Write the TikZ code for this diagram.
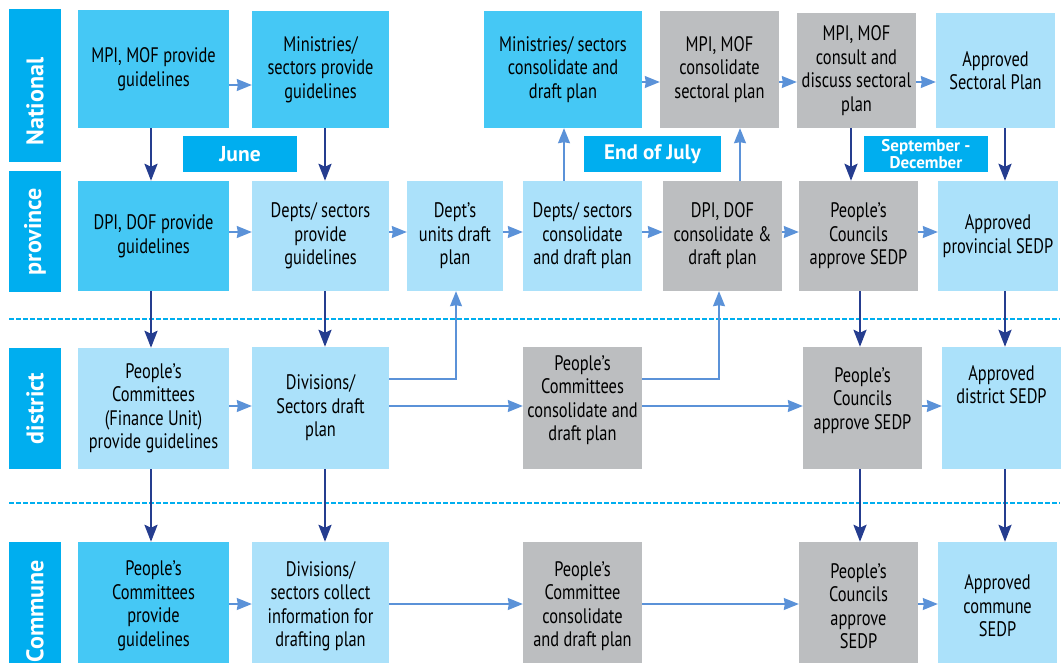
\documentclass[tikz,border=0pt]{standalone}
\usepackage{fontspec}
\setmainfont{PT Sans}[FakeStretch=0.78]
\newfontfamily\boldsans{PT Sans}[BoldFont={PT Sans Bold}]
\usetikzlibrary{arrows.meta}
\definecolor{cyanlab}{HTML}{00AEEF}
\definecolor{midblue}{HTML}{45C8F5}
\definecolor{liteblue}{HTML}{ABE1FA}
\definecolor{greybox}{HTML}{BCBEC0}
\definecolor{darkarrow}{HTML}{253D8F}
\definecolor{litearrow}{HTML}{5B92D8}
\definecolor{dashcol}{HTML}{00AEEF}
\newcommand\boxfont{\fontsize{21}{23.5}\selectfont}
\newcommand\lanefnt{\boldsans\bfseries\fontsize{24}{26}\selectfont}
\newcommand\tagfnt{\boldsans\bfseries\fontsize{21.5}{21.5}\selectfont}
\tikzset{
  box/.style={inner sep=0pt, align=center, font=\boxfont, text=black},
  mid/.style={box, fill=midblue},
  lite/.style={box, fill=liteblue},
  grey/.style={box, fill=greybox},
  lanebox/.style={fill=cyanlab, text=white, font=\lanefnt, rotate=90, inner sep=0pt},
  tagbox/.style={fill=cyanlab, text=white, font=\tagfnt, align=center, inner sep=0pt},
  dk/.style={draw=darkarrow, line width=2.6pt, -{Stealth[length=17pt,width=13pt,inset=3pt]}},
  lt/.style={draw=litearrow, line width=1.3pt, -{Stealth[length=15pt,width=12pt,inset=1pt]}},
  sep/.style={draw=dashcol, line width=1.2pt, dash pattern=on 4.5pt off 2.5pt}
}
% \bx{name}{style}{x1}{y1}{x2}{y2}{text}
\newcommand\bx[7]{\node[#2, minimum width={#5-#3}, minimum height={#6-#4}] (#1) at ({(#3+#5)/2},{(#4+#6)/2}) {#7};}
% \lane{name}{x1}{y1}{x2}{y2}{text}
\newcommand\lane[6]{\node[lanebox, minimum width={#5-#3}, minimum height={#4-#2}] (#1) at ({(#2+#4)/2},{(#3+#5)/2}) {#6};}
\begin{document}
\begin{tikzpicture}[x=1pt,y=-1pt]
\useasboundingbox (0,0) rectangle (1064,662);
% separators
\coordinate (s1a) at (9,319); \coordinate (s1b) at (1060,319);
\coordinate (s2a) at (9,503); \coordinate (s2b) at (1060,503);
\draw[sep] (s1a) -- (s1b);
\draw[sep] (s2a) -- (s2b);
% lanes
\lane{L1}{9}{9}{61}{162}{National\hspace*{32pt}}
\lane{L2}{9}{171}{61}{292}{province}
\lane{L3}{9}{348}{61}{469}{district}
\lane{L4}{9}{542}{61}{680}{Commune}
% tags
\bx{T1}{tagbox}{183}{136}{297}{172}{June}
\bx{T2}{tagbox,font=\boldsans\bfseries\fontsize{21}{21}\selectfont}{584}{136}{721}{172}{End of July}
\bx{T3}{tagbox,font=\boldsans\bfseries\fontsize{17}{17.5}\selectfont}{864}{136}{988}{172}{September -\\December}
% national
\bx{A1}{mid}{78}{10}{229}{128}{MPI, MOF provide\\guidelines}
\bx{A2}{mid}{252}{11}{389}{128}{Ministries/\\sectors provide\\guidelines}
\bx{A4}{mid}{484}{11}{642}{128}{Ministries/ sectors\\consolidate and\\draft plan}
\bx{A5}{grey}{660}{11}{779}{128}{MPI, MOF\\consolidate\\sectoral plan}
\bx{A6}{grey}{797}{13}{916}{128}{MPI, MOF\\consult and\\discuss sectoral\\plan}
\bx{A7}{lite}{936}{13}{1055}{128}{Approved\\Sectoral Plan}
% province
\bx{B1}{mid}{78}{181}{229}{291}{DPI, DOF provide\\guidelines}
\bx{B2}{lite}{252}{181}{389}{291}{Depts/ sectors\\provide\\guidelines}
\bx{B3}{lite}{407}{181}{503}{291}{Dept’s\\units draft\\plan}
\bx{B4}{lite}{523}{181}{642}{291}{Depts/ sectors\\consolidate\\and draft plan}
\bx{B5}{grey}{663}{181}{782}{291}{DPI, DOF\\consolidate \&\\draft plan}
\bx{B6}{grey}{799}{181}{918}{291}{People’s\\Councils\\approve SEDP}
\bx{B7}{lite}{938}{181}{1058}{291}{Approved\\provincial SEDP}
% district
\bx{C1}{lite}{78}{348}{229}{469}{People’s\\Committees\\(Finance Unit)\\provide guidelines}
\bx{C2}{lite}{252}{347}{389}{469}{Divisions/\\Sectors draft\\plan}
\bx{C4}{grey}{523}{347}{642}{469}{People’s\\Committees\\consolidate and\\draft plan\\[-4pt]~}
\bx{C6}{grey}{803}{347}{922}{469}{People’s\\Councils\\approve SEDP\\[-4pt]~}
\bx{C7}{lite}{942}{347}{1061}{469}{Approved\\district SEDP\\~\\~}
% commune
\bx{D1}{mid}{78}{542}{229}{670}{People’s\\Committees\\provide\\guidelines}
\bx{D2}{lite}{252}{542}{389}{670}{Divisions/\\sectors collect\\information for\\drafting plan}
\bx{D4}{grey}{523}{542}{642}{670}{People’s\\Committee\\consolidate\\and draft plan}
\bx{D6}{grey}{799}{542}{918}{670}{People’s\\Councils\\approve\\SEDP}
\bx{D7}{lite}{938}{542}{1057}{670}{Approved\\commune\\SEDP}
% helper coordinates
\coordinate (xa) at (151,0);
\coordinate (xb) at (325,0);
\coordinate (xc) at (851,0);
\coordinate (xd) at (860,0);
\coordinate (xe) at (1005,0);
\coordinate (xf) at (564,0);
\coordinate (xg) at (740,0);
\coordinate (xh) at (456,0);
\coordinate (xi) at (719,0);
\coordinate (ya) at (0,85);
\coordinate (yb) at (0,82);
\coordinate (yc) at (0,232);
\coordinate (yd) at (0,406);
\coordinate (ye) at (0,379);
\coordinate (yf) at (0,604);
% dark vertical arrows
\draw[dk] (A1.south -| xa) -- (B1.north -| xa);
\draw[dk] (A2.south -| xb) -- (B2.north -| xb);
\draw[dk] (A6.south -| xc) -- (B6.north -| xc);
\draw[dk] (A7.south -| xe) -- (B7.north -| xe);
\draw[dk] (B1.south -| xa) -- (C1.north -| xa);
\draw[dk] (B2.south -| xb) -- (C2.north -| xb);
\draw[dk] (B6.south -| xd) -- (C6.north -| xd);
\draw[dk] (B7.south -| xe) -- (C7.north -| xe);
\draw[dk] (C1.south -| xa) -- (D1.north -| xa);
\draw[dk] (C2.south -| xb) -- (D2.north -| xb);
\draw[dk] (C6.south -| xd) -- (D6.north -| xd);
\draw[dk] (C7.south -| xe) -- (D7.north -| xe);
% light arrows national
\draw[lt] (A1.east |- ya) -- (A2.west |- ya);
\draw[lt] (A4.east |- yb) -- (A5.west |- yb);
\draw[lt] (A5.east |- yb) -- (A6.west |- yb);
\draw[lt] (A6.east |- yb) -- (A7.west |- yb);
% province
\draw[lt] (B1.east |- yc) -- (B2.west |- yc);
\draw[lt] (B2.east |- yc) -- (B3.west |- yc);
\draw[lt] (B3.east |- yc) -- (B4.west |- yc);
\draw[lt] (B4.east |- yc) -- (B5.west |- yc);
\draw[lt] (B5.east |- yc) -- (B6.west |- yc);
\draw[lt] (B6.east |- yc) -- (B7.west |- yc);
\draw[lt] (B4.north -| xf) -- (A4.south -| xf);
\draw[lt] (B5.north -| xg) -- (A5.south -| xg);
% district
\draw[lt] (C1.east |- yd) -- (C2.west |- yd);
\draw[lt] (C2.east |- yd) -- (C4.west |- yd);
\draw[lt] (C4.east |- yd) -- (C6.west |- yd);
\draw[lt] (C6.east |- yd) -- (C7.west |- yd);
\draw[lt] (C2.east |- ye) -| (B3.south -| xh);
\draw[lt] (C4.east |- ye) -| (B5.south -| xi);
% commune
\draw[lt] (D1.east |- yf) -- (D2.west |- yf);
\draw[lt] (D2.east |- yf) -- (D4.west |- yf);
\draw[lt] (D4.east |- yf) -- (D6.west |- yf);
\draw[lt] (D6.east |- yf) -- (D7.west |- yf);
\end{tikzpicture}
\end{document}
